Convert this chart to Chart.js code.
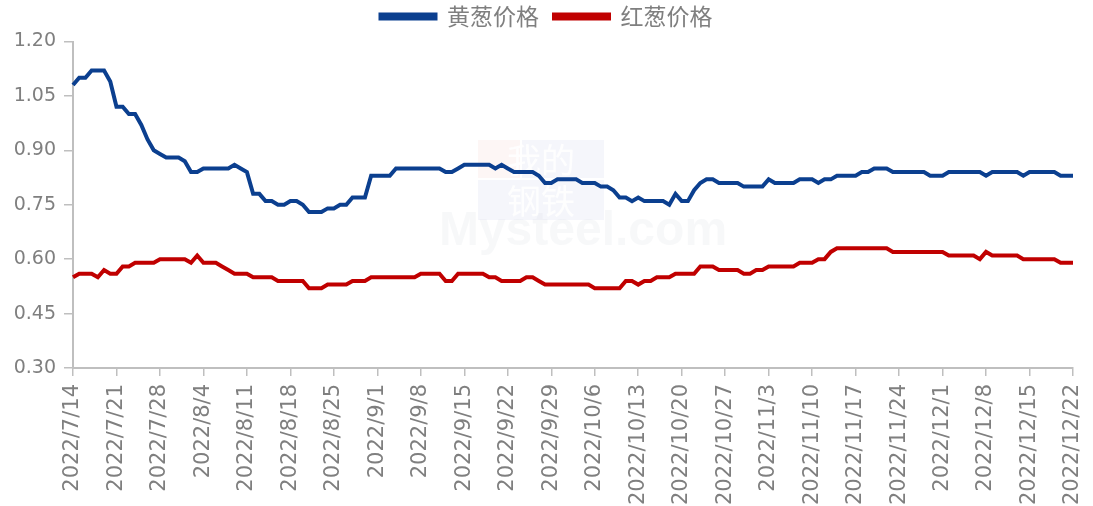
<!DOCTYPE html>
<html>
<head>
<meta charset="utf-8">
<script src="https://cdn.jsdelivr.net/npm/chart.js@4/dist/chart.umd.min.js"></script>
<style>
  html, body { margin: 0; padding: 0; background: #fff; }
  #wrap { width: 1093px; height: 506px; position: relative; }
</style>
</head>
<body>
<div id="wrap"><canvas id="lineChart"></canvas></div>
<script>
// ------ Datos ------
const startDate = [2022, 7, 14];
const dayCount = 162;
const seriesNames = ['黄葱价格', '红葱价格'];
const yTicks = [0.30, 0.45, 0.60, 0.75, 0.90, 1.05, 1.20];

const yellowOnion = [
  1.08, 1.10, 1.10, 1.12, 1.12, 1.12, 1.09, 1.02, 1.02, 1.00,
  1.00, 0.97, 0.93, 0.90, 0.89, 0.88, 0.88, 0.88, 0.87, 0.84,
  0.84, 0.85, 0.85, 0.85, 0.85, 0.85, 0.86, 0.85, 0.84, 0.78,
  0.78, 0.76, 0.76, 0.75, 0.75, 0.76, 0.76, 0.75, 0.73, 0.73,
  0.73, 0.74, 0.74, 0.75, 0.75, 0.77, 0.77, 0.77, 0.83, 0.83,
  0.83, 0.83, 0.85, 0.85, 0.85, 0.85, 0.85, 0.85, 0.85, 0.85,
  0.84, 0.84, 0.85, 0.86, 0.86, 0.86, 0.86, 0.86, 0.85, 0.86,
  0.85, 0.84, 0.84, 0.84, 0.84, 0.83, 0.81, 0.81, 0.82, 0.82,
  0.82, 0.82, 0.81, 0.81, 0.81, 0.80, 0.80, 0.79, 0.77, 0.77,
  0.76, 0.77, 0.76, 0.76, 0.76, 0.76, 0.75, 0.78, 0.76, 0.76,
  0.79, 0.81, 0.82, 0.82, 0.81, 0.81, 0.81, 0.81, 0.80, 0.80,
  0.80, 0.80, 0.82, 0.81, 0.81, 0.81, 0.81, 0.82, 0.82, 0.82,
  0.81, 0.82, 0.82, 0.83, 0.83, 0.83, 0.83, 0.84, 0.84, 0.85,
  0.85, 0.85, 0.84, 0.84, 0.84, 0.84, 0.84, 0.84, 0.83, 0.83,
  0.83, 0.84, 0.84, 0.84, 0.84, 0.84, 0.84, 0.83, 0.84, 0.84,
  0.84, 0.84, 0.84, 0.83, 0.84, 0.84, 0.84, 0.84, 0.84, 0.83,
  0.83, 0.83
];

const redOnion = [
  0.55, 0.56, 0.56, 0.56, 0.55, 0.57, 0.56, 0.56, 0.58, 0.58,
  0.59, 0.59, 0.59, 0.59, 0.60, 0.60, 0.60, 0.60, 0.60, 0.59,
  0.61, 0.59, 0.59, 0.59, 0.58, 0.57, 0.56, 0.56, 0.56, 0.55,
  0.55, 0.55, 0.55, 0.54, 0.54, 0.54, 0.54, 0.54, 0.52, 0.52,
  0.52, 0.53, 0.53, 0.53, 0.53, 0.54, 0.54, 0.54, 0.55, 0.55,
  0.55, 0.55, 0.55, 0.55, 0.55, 0.55, 0.56, 0.56, 0.56, 0.56,
  0.54, 0.54, 0.56, 0.56, 0.56, 0.56, 0.56, 0.55, 0.55, 0.54,
  0.54, 0.54, 0.54, 0.55, 0.55, 0.54, 0.53, 0.53, 0.53, 0.53,
  0.53, 0.53, 0.53, 0.53, 0.52, 0.52, 0.52, 0.52, 0.52, 0.54,
  0.54, 0.53, 0.54, 0.54, 0.55, 0.55, 0.55, 0.56, 0.56, 0.56,
  0.56, 0.58, 0.58, 0.58, 0.57, 0.57, 0.57, 0.57, 0.56, 0.56,
  0.57, 0.57, 0.58, 0.58, 0.58, 0.58, 0.58, 0.59, 0.59, 0.59,
  0.60, 0.60, 0.62, 0.63, 0.63, 0.63, 0.63, 0.63, 0.63, 0.63,
  0.63, 0.63, 0.62, 0.62, 0.62, 0.62, 0.62, 0.62, 0.62, 0.62,
  0.62, 0.61, 0.61, 0.61, 0.61, 0.61, 0.60, 0.62, 0.61, 0.61,
  0.61, 0.61, 0.61, 0.60, 0.60, 0.60, 0.60, 0.60, 0.60, 0.59,
  0.59, 0.59
];

// etiquetas diarias 2022/7/14 ... 2022/12/22
const labels = [];
for (let i = 0; i < dayCount; i++) {
  const d = new Date(startDate[0], startDate[1] - 1, startDate[2] + i);
  labels.push(`${d.getFullYear()}/${d.getMonth() + 1}/${d.getDate()}`);
}

// ------ Estilo ------
const AXIS = '#bfbfbf';
const TXT = '#7f7f7f';

// marca de agua tenue
const watermark = {
  id: 'watermark',
  beforeDatasetsDraw(chart) {
    const c = chart.ctx;
    c.save();
    c.fillStyle = 'rgba(235,150,140,0.09)';
    c.fillRect(478, 140, 42, 38);
    c.fillStyle = 'rgba(140,160,215,0.09)';
    c.fillRect(522, 140, 82, 38);
    c.fillRect(478, 180, 126, 40);
    c.textAlign = 'center';
    c.textBaseline = 'middle';
    c.font = '34px "Noto Sans CJK SC"';
    c.fillStyle = 'rgba(255,255,255,0.9)';
    c.fillText('我的', 541, 160);
    c.fillText('钢铁', 541, 201);
    c.fillStyle = 'rgba(200,205,215,0.15)';
    c.font = 'bold 48px Arial, sans-serif';
    c.fillText('Mysteel.com', 583, 232);
    c.restore();
  }
};

// ajuste del alto de la leyenda
const legendGap = {
  id: 'legendGap',
  beforeInit(chart) {
    const fit = chart.legend.fit;
    chart.legend.fit = function () {
      fit.call(this);
      this.height += 3.5;
    };
  }
};

const ctx = document.getElementById('lineChart');
const chart = new Chart(ctx, {
  type: 'line',
  data: {
    labels: labels,
    datasets: [
      { label: seriesNames[0], data: yellowOnion, borderColor: '#0b3f8f', backgroundColor: '#0b3f8f',
        borderWidth: 4, pointRadius: 0, tension: 0 },
      { label: seriesNames[1], data: redOnion, borderColor: '#c00000', backgroundColor: '#c00000',
        borderWidth: 4, pointRadius: 0, tension: 0 },
    ]
  },
  options: {
    animation: false,
    responsive: true,
    maintainAspectRatio: false,
    layout: { padding: { top: -10, right: 0, bottom: 0, left: 0 } },
    plugins: {
      legend: {
        position: 'top',
        labels: {
          color: TXT, boxWidth: 55, boxHeight: 4, padding: 15,
          font: { family: '"Noto Sans CJK SC", sans-serif', size: 23 }
        }
      },
      tooltip: { enabled: false }
    },
    scales: {
      x: {
        afterFit: (s) => { s.height = 138; s.paddingRight = 20; },
        grid: { drawOnChartArea: false, drawTicks: true, tickLength: 8, color: AXIS, lineWidth: 1.5 },
        border: { color: AXIS, width: 2 },
        ticks: {
          autoSkip: false, maxRotation: 90, minRotation: 90, padding: 8,
          color: TXT, font: { family: '"DejaVu Sans", sans-serif', size: 21 },
          callback: function (v, i) { return i % 7 === 0 ? this.getLabelForValue(v) : null; }
        }
      },
      y: {
        min: 0.30, max: 1.20,
        afterFit: (s) => { s.width = 73; },
        afterBuildTicks: (s) => { s.ticks = yTicks.map(v => ({ value: v })); },
        grid: { drawOnChartArea: false, drawTicks: true, tickLength: 9, color: AXIS, lineWidth: 1.5 },
        border: { color: AXIS, width: 2 },
        ticks: {
          padding: 8, color: TXT, font: { family: '"DejaVu Sans", sans-serif', size: 19 },
          callback: (v) => Number(v).toFixed(2)
        }
      }
    }
  },
  plugins: [watermark, legendGap]
});
</script>
</body>
</html>
